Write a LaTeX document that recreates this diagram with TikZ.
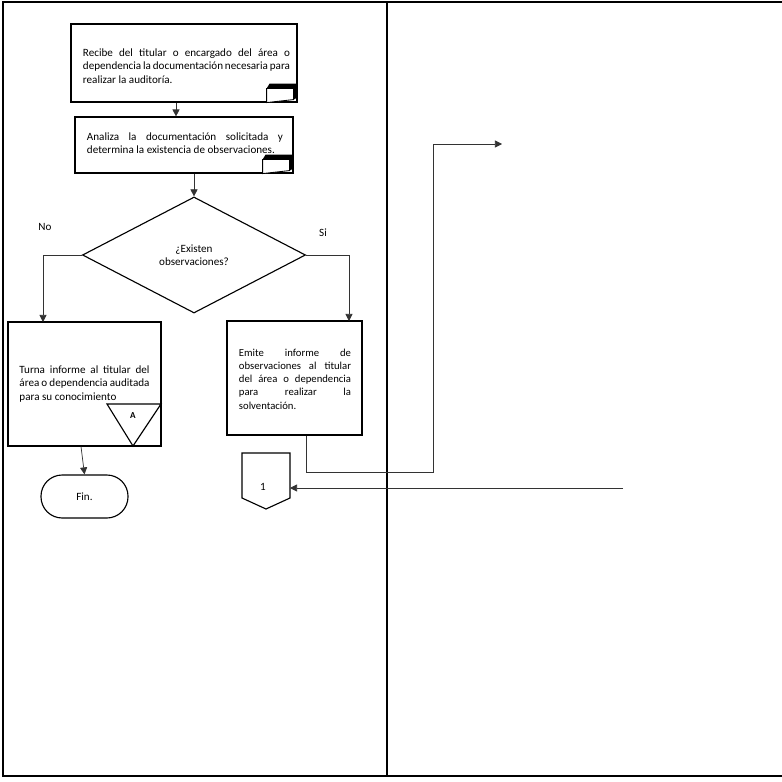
\documentclass[tikz,border=0pt]{standalone}
\usepackage{fontspec}
\setmainfont{Carlito}
\usepackage{tikz}
\usetikzlibrary{arrows.meta, shapes.geometric}

% small stacked-paper mark in the lower right corner of a box
\newcommand{\docmark}[1]{%
  \begin{scope}[shift={(#1)}]
    \fill (-28,-19) -- (0,-19) -- (0,-5) -- (-4,-3) -- (-4,-14) -- (-31,-14) -- cycle;
    \draw[fill=white, line width=0.6pt] (-31,-14) -- (-4,-14) -- (-4,-3) -- (-31,0) -- cycle;
  \end{scope}}

\begin{document}
\hyphenpenalty=10000
\exhyphenpenalty=10000
\begin{tikzpicture}[x=0.025cm, y=-0.025cm,
    font=\fontsize{7.9}{9.5}\selectfont,
    proc/.style={draw, line width=0.8pt, align=justify, inner sep=0pt},
    decision/.style={draw, diamond, line width=0.8pt, inner sep=0pt, align=center},
    endbox/.style={draw, line width=0.8pt, rounded corners=0.53cm,
                   minimum width=2.175cm, minimum height=1.075cm},
    flow/.style={line width=0.5pt, black!80, -{Triangle[length=5pt, width=5pt]}}]
  \useasboundingbox (0,0) rectangle (782,782);

  % frame and lanes
  \draw[line width=1pt] (782,2) -- (3,2) -- (3,776) -- (782,776);
  \draw[line width=1pt] (387,2) -- (387,776);

  % steps
  \node[proc, minimum width=5.65cm, minimum height=1.95cm] (recibe) at (184,63) {};
  \node[text width=5.175cm, align=justify, inner sep=0pt] (recibetxt) at (186.5,66)
    {Recibe del titular o encargado del área o dependencia la documentación necesaria para realizar la auditoría.};
  \docmark{recibe.south east}

  \node[proc, minimum width=5.45cm, minimum height=1.4cm] (analiza) at (184,145) {};
  \node[text width=4.9cm, align=justify, inner sep=0pt] (analizatxt) at (185,143)
    {Analiza la documentación solicitada y determina la existencia de observaciones.};
  \docmark{analiza.south east}

  \node[decision, minimum width=5.575cm, minimum height=2.9cm] (existen) at (194,255)
    {¿Existen\\observaciones?};

  \node at (45,227) (no) {No};
  \node at (323,233) (si) {Si};

  \node[proc, minimum width=3.825cm, minimum height=3.1cm,
        text width=3.25cm] (turna) at (84.5,384)
    {Turna informe al titular del área o dependencia auditada para su conocimiento};
  \draw[line width=0.8pt] (107,404) -- (161,404) -- (133,446) -- cycle;
  \node at (133,416) (marcaA) {\fontsize{6.5}{7}\selectfont\bfseries A};

  \node[proc, minimum width=3.375cm, minimum height=2.85cm] (emite) at (294.5,378) {};
  \node[text width=2.8cm, align=justify, inner sep=0pt,
        font=\fontsize{7.6}{9.4}\selectfont] (emitetxt) at (295,379)
    {Emite informe de\linebreak observaciones al titular\linebreak
     del área o dependencia\linebreak para realizar la\linebreak solventación.};

  \node[endbox] (fin) at (84.5,496.5) {Fin.};

  % off-page connector
  \draw[line width=0.8pt] (242,453) -- (290,453) -- (290,498) -- (266,509)
    -- (242,498) -- cycle;
  \node at (263,487) (uno) {1};

  \coordinate (noin) at (43,322);
  \coordinate (siin) at (349,321);
  \coordinate (salida) at (502,144);
  \coordinate (regreso) at (623,488);
  \coordinate (unoin) at (290,488);

  % connectors
  \draw[flow] (176,0 |- recibe.south) -- (176,0 |- analiza.north);
  \draw[flow] (existen.north |- analiza.south) -- (existen.north);
  \draw[flow] (existen.west) -| (noin);
  \draw[flow] (existen.east) -| (siin);
  \draw[flow] (81,0 |- turna.south) -- (fin.north);
  \draw[flow] (306,0 |- emite.south) -- (306,472) -- (433,472) -- (433,144) -- (salida);
  \draw[flow] (regreso) -- (unoin);
\end{tikzpicture}
\end{document}
